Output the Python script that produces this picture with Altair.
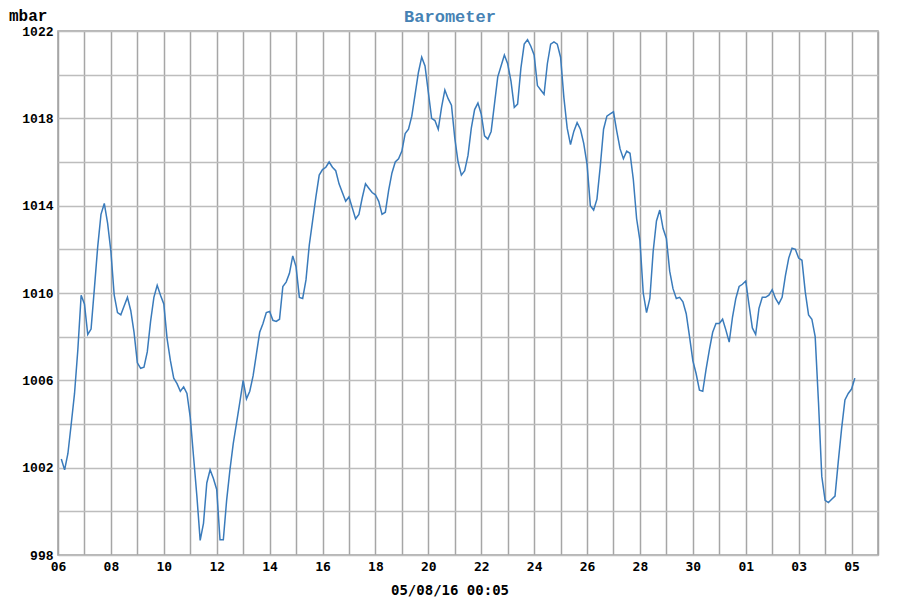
import altair as alt
import pandas as pd

# Barometer readings (mbar), 3-hourly, starting 2016-07-06 03:00 UTC
pressure = [
    1002.4, 1001.9, 1002.65, 1004.0, 1005.4, 1007.4, 1009.9, 1009.5,
    1008.1, 1008.35, 1010.2, 1012.1, 1013.6, 1014.1, 1013.2, 1011.9,
    1009.9, 1009.1, 1009.0, 1009.4, 1009.8, 1009.2, 1008.2, 1006.8,
    1006.55, 1006.6, 1007.3, 1008.7, 1009.8, 1010.35, 1009.9, 1009.5,
    1007.9, 1006.9, 1006.1, 1005.85, 1005.5, 1005.7, 1005.4, 1004.3,
    1002.5, 1000.7, 998.67, 999.45, 1001.3, 1001.9, 1001.5, 1001.0,
    998.7, 998.7, 1000.5, 1001.9, 1003.1, 1004.05, 1005.0, 1006.0,
    1005.15, 1005.5, 1006.2, 1007.2, 1008.2, 1008.6, 1009.1, 1009.15,
    1008.75, 1008.7, 1008.8, 1010.3, 1010.5, 1010.9, 1011.7, 1011.2,
    1009.8, 1009.75, 1010.6, 1012.2, 1013.3, 1014.4, 1015.4, 1015.65,
    1015.76, 1016.0, 1015.76, 1015.6, 1015.0, 1014.6, 1014.2, 1014.4,
    1013.9, 1013.4, 1013.6, 1014.35, 1015.0, 1014.8, 1014.6, 1014.5,
    1014.2, 1013.6, 1013.7, 1014.7, 1015.5, 1016.0, 1016.15, 1016.5,
    1017.3, 1017.5, 1018.1, 1019.1, 1020.1, 1020.8, 1020.4, 1019.2,
    1018.0, 1017.9, 1017.5, 1018.5, 1019.3, 1018.9, 1018.6, 1017.1,
    1016.0, 1015.4, 1015.6, 1016.3, 1017.55, 1018.4, 1018.7, 1018.2,
    1017.2, 1017.05, 1017.4, 1018.65, 1019.9, 1020.4, 1020.9, 1020.5,
    1019.7, 1018.5, 1018.65, 1020.3, 1021.4, 1021.6, 1021.3, 1020.9,
    1019.5, 1019.3, 1019.1, 1020.5, 1021.4, 1021.5, 1021.4, 1020.8,
    1018.95, 1017.55, 1016.8, 1017.4, 1017.8, 1017.5, 1016.85, 1015.9,
    1014.0, 1013.8, 1014.3, 1015.8, 1017.5, 1018.1, 1018.2, 1018.3,
    1017.4, 1016.6, 1016.15, 1016.5, 1016.4, 1015.2, 1013.4, 1012.4,
    1010.0, 1009.1, 1009.75, 1011.9, 1013.3, 1013.8, 1012.95, 1012.5,
    1011.0, 1010.2, 1009.75, 1009.8, 1009.6, 1009.05, 1008.0, 1006.9,
    1006.3, 1005.55, 1005.5, 1006.5, 1007.4, 1008.2, 1008.6, 1008.6,
    1008.8, 1008.3, 1007.75, 1008.9, 1009.75, 1010.3, 1010.4, 1010.55,
    1009.45, 1008.4, 1008.1, 1009.3, 1009.8, 1009.8, 1009.9, 1010.15,
    1009.75, 1009.5, 1009.8, 1010.8, 1011.6, 1012.05, 1012.0, 1011.6,
    1011.5, 1010.05, 1009.0, 1008.8, 1008.0, 1005.0, 1001.6, 1000.5,
    1000.4, 1000.55, 1000.7, 1002.3, 1003.8, 1005.1, 1005.4, 1005.6,
    1006.1,
]
times = pd.date_range("2016-07-06 03:00", periods=len(pressure), freq="3h").strftime("%Y-%m-%dT%H:%M:%SZ").tolist()

y_ticks = list(range(998, 1023, 2))
DAY_MS = 86400000
START_MS = 1467763200000  # 2016-07-06 00:00 UTC
x_ticks = [START_MS + i * DAY_MS for i in range(32)]

title_text = "Barometer"
unit_text = "mbar"
time_label = "05/08/16 00:05"

df = pd.DataFrame({"time": times, "pressure": pressure})

W, H = 820, 524
line_color = "#3a7bbb"

line = alt.Chart(df).mark_line(color=line_color, strokeWidth=1.5).encode(
    x=alt.X(
        "time:T",
        scale=alt.Scale(type="utc", domain=[START_MS, START_MS + 31 * DAY_MS], nice=False),
        axis=alt.Axis(
            values=x_ticks,
            labelExpr=f"(round((datum.value - {START_MS}) / {DAY_MS}) % 2 == 0) ? utcFormat(datum.value, '%d') : ''",
            title=None,
            grid=True,
            gridColor="#a6a6a6",
            gridWidth=1.5,
            ticks=False,
            domain=False,
            labelFont="DejaVu Sans Mono",
            labelFontSize=13,
            labelFontWeight="bold",
            labelColor="#000000",
            labelPadding=5,
            labelFlush=False,
            labelOverlap=False,
            labelBound=False,
        ),
    ),
    y=alt.Y(
        "pressure:Q",
        scale=alt.Scale(domain=[998, 1022], nice=False, zero=False),
        axis=alt.Axis(
            values=y_ticks,
            labelExpr="datum.value % 4 == 2 ? format(datum.value, 'd') : ''",
            title=None,
            grid=True,
            gridColor="#bdbdbd",
            gridWidth=1.5,
            ticks=False,
            domain=False,
            labelFont="Liberation Mono",
            labelFontSize=13,
            labelFontWeight="bold",
            labelColor="#000000",
            labelPadding=5,
            labelFlush=False,
            labelOverlap=False,
            labelBound=False,
        ),
    ),
)

title_mark = alt.Chart(pd.DataFrame({"t": [title_text]})).mark_text(
    font="Liberation Mono", fontSize=17, fontWeight="bold", color="#4682b4",
    align="center", baseline="top",
).encode(text="t:N", x=alt.value(392), y=alt.value(-22))

unit_mark = alt.Chart(pd.DataFrame({"t": [unit_text]})).mark_text(
    font="Liberation Mono", fontSize=16, fontWeight="bold", color="#000000",
    align="left", baseline="top",
).encode(text="t:N", x=alt.value(-49), y=alt.value(-23))

time_mark = alt.Chart(pd.DataFrame({"t": [time_label]})).mark_text(
    font="DejaVu Sans Mono", fontSize=14, fontWeight="bold", color="#000000",
    align="center", baseline="middle",
).encode(text="t:N", x=alt.value(392), y=alt.value(H + 36))

chart = alt.layer(line, title_mark, unit_mark, time_mark).properties(
    width=W,
    height=H,
    autosize=alt.AutoSizeParams(type="none"),
    padding={"left": 50, "top": 23, "right": 14, "bottom": 45},
    background="#ffffff",
).configure_view(stroke="#a0a0a0", strokeWidth=1.5)

chart.save("out.html", embed_options={"renderer": "svg", "actions": False})
